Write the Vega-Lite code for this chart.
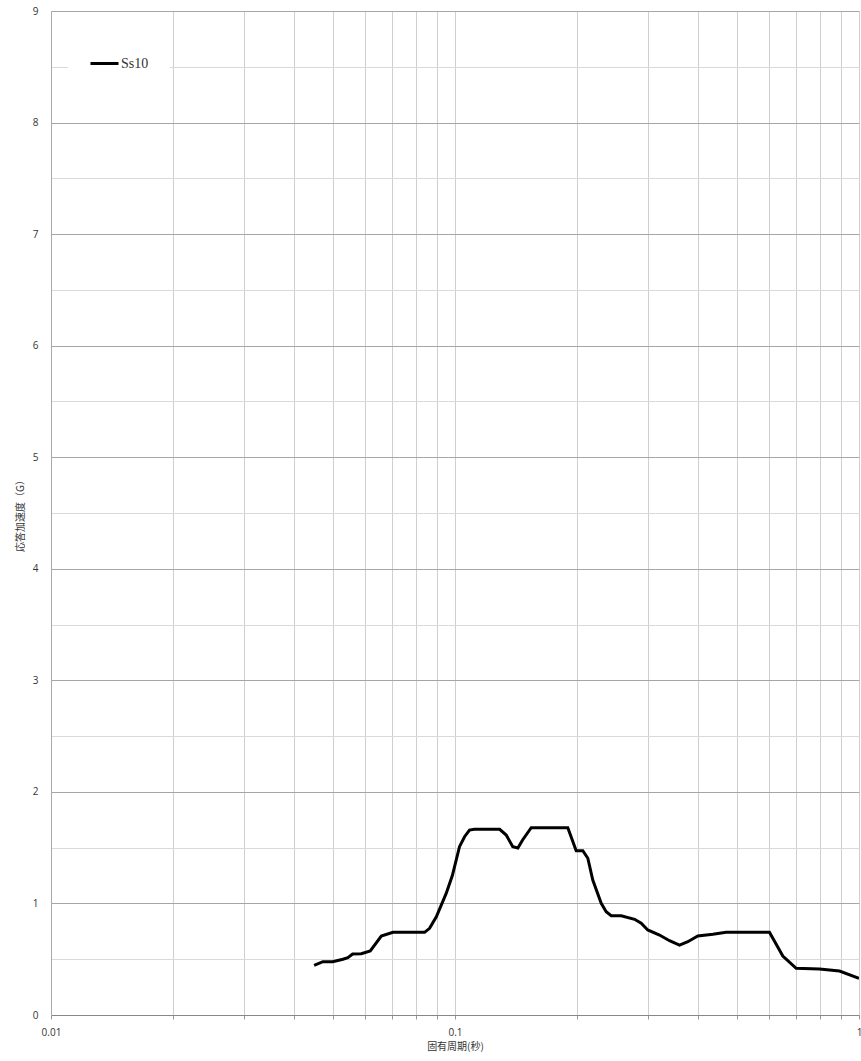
{
  "$schema": "https://vega.github.io/schema/vega-lite/v6.json",
  "width": 808,
  "height": 1004,
  "autosize": {"type": "none"},
  "padding": {"left": 51, "top": 11, "right": 2, "bottom": 46},
  "background": "white",
  "config": {"view": {"stroke": null}},
  "data": {"values": [
    {"T": 0.0448, "A": 0.445, "s": "Ss10"},
    {"T": 0.0471, "A": 0.478, "s": "Ss10"},
    {"T": 0.0498, "A": 0.478, "s": "Ss10"},
    {"T": 0.0528, "A": 0.500, "s": "Ss10"},
    {"T": 0.0543, "A": 0.514, "s": "Ss10"},
    {"T": 0.0558, "A": 0.547, "s": "Ss10"},
    {"T": 0.0586, "A": 0.550, "s": "Ss10"},
    {"T": 0.0617, "A": 0.574, "s": "Ss10"},
    {"T": 0.0657, "A": 0.708, "s": "Ss10"},
    {"T": 0.0702, "A": 0.741, "s": "Ss10"},
    {"T": 0.0841, "A": 0.741, "s": "Ss10"},
    {"T": 0.0865, "A": 0.777, "s": "Ss10"},
    {"T": 0.0899, "A": 0.881, "s": "Ss10"},
    {"T": 0.0951, "A": 1.09, "s": "Ss10"},
    {"T": 0.0985, "A": 1.25, "s": "Ss10"},
    {"T": 0.1026, "A": 1.509, "s": "Ss10"},
    {"T": 0.1056, "A": 1.598, "s": "Ss10"},
    {"T": 0.1086, "A": 1.658, "s": "Ss10"},
    {"T": 0.1117, "A": 1.665, "s": "Ss10"},
    {"T": 0.1290, "A": 1.665, "s": "Ss10"},
    {"T": 0.1339, "A": 1.613, "s": "Ss10"},
    {"T": 0.1390, "A": 1.509, "s": "Ss10"},
    {"T": 0.1431, "A": 1.497, "s": "Ss10"},
    {"T": 0.1470, "A": 1.569, "s": "Ss10"},
    {"T": 0.1544, "A": 1.679, "s": "Ss10"},
    {"T": 0.1902, "A": 1.679, "s": "Ss10"},
    {"T": 0.1995, "A": 1.473, "s": "Ss10"},
    {"T": 0.2072, "A": 1.473, "s": "Ss10"},
    {"T": 0.2132, "A": 1.405, "s": "Ss10"},
    {"T": 0.2193, "A": 1.21, "s": "Ss10"},
    {"T": 0.2301, "A": 1.001, "s": "Ss10"},
    {"T": 0.2367, "A": 0.926, "s": "Ss10"},
    {"T": 0.2436, "A": 0.89, "s": "Ss10"},
    {"T": 0.2578, "A": 0.89, "s": "Ss10"},
    {"T": 0.2783, "A": 0.858, "s": "Ss10"},
    {"T": 0.2890, "A": 0.822, "s": "Ss10"},
    {"T": 0.3000, "A": 0.762, "s": "Ss10"},
    {"T": 0.3208, "A": 0.717, "s": "Ss10"},
    {"T": 0.3396, "A": 0.666, "s": "Ss10"},
    {"T": 0.3595, "A": 0.627, "s": "Ss10"},
    {"T": 0.3770, "A": 0.657, "s": "Ss10"},
    {"T": 0.3990, "A": 0.708, "s": "Ss10"},
    {"T": 0.4348, "A": 0.723, "s": "Ss10"},
    {"T": 0.4690, "A": 0.741, "s": "Ss10"},
    {"T": 0.6003, "A": 0.741, "s": "Ss10"},
    {"T": 0.6478, "A": 0.529, "s": "Ss10"},
    {"T": 0.6990, "A": 0.418, "s": "Ss10"},
    {"T": 0.7980, "A": 0.412, "s": "Ss10"},
    {"T": 0.8948, "A": 0.394, "s": "Ss10"},
    {"T": 1.0, "A": 0.329, "s": "Ss10"}
  ]},
  "mark": {"type": "line", "strokeWidth": 3, "interpolate": "linear", "clip": true},
  "encoding": {
    "x": {
      "field": "T", "type": "quantitative",
      "scale": {"type": "log", "domain": [0.01, 1], "nice": false},
      "axis": {
        "title": "固有周期(秒)",
        "titleFont": "Noto Sans CJK JP", "titleFontSize": 10, "titleFontWeight": "normal", "titleColor": "#333",
        "titlePadding": 4,
        "values": [0.01, 0.02, 0.03, 0.04, 0.05, 0.06, 0.07, 0.08, 0.09, 0.1, 0.2, 0.3, 0.4, 0.5, 0.6, 0.7, 0.8, 0.9, 1],
        "labelExpr": "datum.value == 0.01 ? '0.01' : (datum.value == 0.1 ? '0.1' : (datum.value == 1 ? '1' : ''))",
        "labelFont": "Open Sans", "labelFontSize": 10, "labelColor": "#333",
        "labelPadding": 8, "labelOverlap": false, "labelFlush": false,
        "tickSize": 4, "tickColor": "#999",
        "domainColor": "#888",
        "grid": true, "gridColor": "#cfcfcf", "gridWidth": 1
      }
    },
    "y": {
      "field": "A", "type": "quantitative",
      "scale": {"domain": [0, 9], "nice": false},
      "axis": {
        "title": "応答加速度（G）",
        "titleFont": "Noto Sans CJK JP", "titleFontSize": 10, "titleFontWeight": "normal", "titleColor": "#333",
        "titlePadding": 7,
        "values": [0, 0.5, 1, 1.5, 2, 2.5, 3, 3.5, 4, 4.5, 5, 5.5, 6, 6.5, 7, 7.5, 8, 8.5, 9],
        "labelExpr": "datum.value % 1 == 0 ? format(datum.value, 'd') : ''",
        "labelFont": "Open Sans", "labelFontSize": 10, "labelColor": "#333",
        "labelPadding": 13,
        "ticks": false,
        "domainColor": "#aaa",
        "grid": true,
        "gridColor": {"condition": {"test": "datum.value % 1 == 0", "value": "#a6a6a6"}, "value": "#d9d9d9"},
        "gridWidth": 1
      }
    },
    "color": {
      "field": "s", "type": "nominal",
      "scale": {"range": ["#000000"]},
      "legend": {
        "title": null,
        "orient": "none",
        "legendX": 17,
        "legendY": 16,
        "fillColor": "white",
        "padding": 21,
        "symbolType": "stroke",
        "symbolSize": 784,
        "symbolStrokeWidth": 3,
        "labelFont": "Liberation Serif",
        "labelFontSize": 14,
        "labelColor": "#333",
        "labelOffset": 1
      }
    }
  }
}
